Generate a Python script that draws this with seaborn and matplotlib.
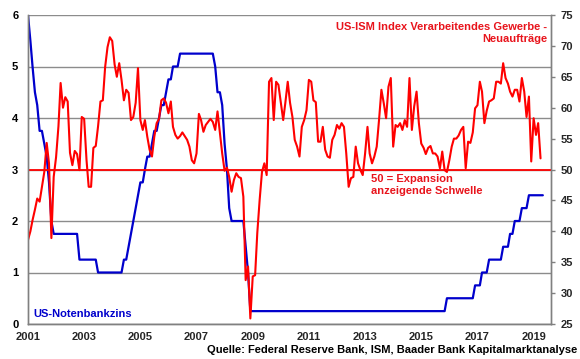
import matplotlib
matplotlib.use("Agg")
import matplotlib.pyplot as plt
import pandas as pd
import seaborn as sns

# ISM Verarbeitendes Gewerbe, Neuaufträge (monthly, Jan 2001 - Apr 2019)
ism_new_orders = [
    38.6, 40.0, 41.8, 43.5, 45.3, 44.8, 47.2, 49.6, 54.3, 51.0, 38.9, 48.8,
    52.0, 57.0, 64.0, 60.0, 61.7, 61.0, 52.7, 50.7, 53.0, 52.5, 49.9, 58.5,
    58.2, 51.5, 47.2, 47.2, 53.5, 53.8, 57.0, 61.0, 61.2, 66.6, 69.8, 71.4,
    70.8, 67.0, 65.0, 67.2, 64.5, 61.2, 62.9, 62.4, 58.0, 58.5, 60.8, 66.4,
    58.0, 56.4, 58.0, 55.3, 53.2, 52.1, 55.3, 57.5, 58.2, 61.2, 61.5, 60.8,
    59.1, 61.0, 56.9, 55.6, 55.0, 55.4, 56.0, 55.4, 54.8, 53.7, 51.5, 51.0,
    52.6, 59.0, 58.0, 56.1, 57.2, 57.7, 58.2, 57.7, 56.4, 59.4, 55.9, 52.6,
    49.8, 50.3, 48.8, 46.4, 48.3, 49.4, 48.8, 48.6, 45.6, 32.1, 34.3, 25.9,
    32.7, 32.9, 39.7, 45.1, 49.6, 51.0, 49.1, 64.2, 64.8, 58.0, 64.2, 63.7,
    60.8, 58.0, 60.8, 64.2, 60.8, 58.5, 54.8, 53.7, 52.1, 56.9, 58.0, 59.6,
    64.5, 64.2, 61.2, 60.9, 54.5, 54.5, 56.9, 53.2, 52.1, 51.9, 54.8, 55.6,
    57.2, 56.6, 57.5, 56.9, 52.6, 47.2, 48.6, 48.8, 53.7, 51.0, 49.9, 49.1,
    52.6, 56.9, 52.6, 51.0, 52.1, 53.7, 58.0, 62.9, 60.7, 58.3, 63.4, 64.8,
    53.7, 57.2, 56.9, 57.5, 56.4, 58.0, 56.9, 64.8, 56.4, 60.2, 62.6, 57.5,
    54.2, 53.5, 52.5, 53.5, 53.8, 52.6, 52.6, 52.1, 50.2, 52.9, 49.9, 49.6,
    51.5, 53.7, 55.0, 55.0, 55.5, 56.4, 56.9, 50.2, 54.5, 54.3, 56.0, 59.9,
    60.4, 64.2, 62.6, 57.5, 59.5, 61.0, 61.2, 61.5, 64.2, 64.2, 63.9, 67.2,
    64.8, 63.9, 62.6, 61.8, 62.9, 62.9, 61.0, 64.8, 62.6, 58.5, 61.8, 51.3,
    58.3, 55.6, 57.5, 51.8,
]

# US-Leitzins (Obergrenze), monthly, Jan 2001 - May 2019
fed_funds = [
    6.0, 5.5, 5.0, 4.5, 4.25, 3.75, 3.75, 3.5, 3.25, 2.75, 2.0, 1.75,
    1.75, 1.75, 1.75, 1.75, 1.75, 1.75, 1.75, 1.75, 1.75, 1.75, 1.25, 1.25,
    1.25, 1.25, 1.25, 1.25, 1.25, 1.25, 1.0, 1.0, 1.0, 1.0, 1.0, 1.0,
    1.0, 1.0, 1.0, 1.0, 1.0, 1.25, 1.25, 1.5, 1.75, 2.0, 2.25, 2.5,
    2.75, 2.75, 3.0, 3.25, 3.25, 3.5, 3.75, 3.75, 4.0, 4.25, 4.25, 4.5,
    4.75, 4.75, 5.0, 5.0, 5.0, 5.25, 5.25, 5.25, 5.25, 5.25, 5.25, 5.25,
    5.25, 5.25, 5.25, 5.25, 5.25, 5.25, 5.25, 5.25, 5.0, 4.5, 4.5, 4.25,
    3.5, 3.0, 2.25, 2.0, 2.0, 2.0, 2.0, 2.0, 2.0, 1.5, 1.0, 0.25,
    0.25, 0.25, 0.25, 0.25, 0.25, 0.25, 0.25, 0.25, 0.25, 0.25, 0.25, 0.25,
    0.25, 0.25, 0.25, 0.25, 0.25, 0.25, 0.25, 0.25, 0.25, 0.25, 0.25, 0.25,
    0.25, 0.25, 0.25, 0.25, 0.25, 0.25, 0.25, 0.25, 0.25, 0.25, 0.25, 0.25,
    0.25, 0.25, 0.25, 0.25, 0.25, 0.25, 0.25, 0.25, 0.25, 0.25, 0.25, 0.25,
    0.25, 0.25, 0.25, 0.25, 0.25, 0.25, 0.25, 0.25, 0.25, 0.25, 0.25, 0.25,
    0.25, 0.25, 0.25, 0.25, 0.25, 0.25, 0.25, 0.25, 0.25, 0.25, 0.25, 0.25,
    0.25, 0.25, 0.25, 0.25, 0.25, 0.25, 0.25, 0.25, 0.25, 0.25, 0.25, 0.5,
    0.5, 0.5, 0.5, 0.5, 0.5, 0.5, 0.5, 0.5, 0.5, 0.5, 0.5, 0.75,
    0.75, 0.75, 1.0, 1.0, 1.0, 1.25, 1.25, 1.25, 1.25, 1.25, 1.25, 1.5,
    1.5, 1.5, 1.75, 1.75, 2.0, 2.0, 2.0, 2.25, 2.25, 2.25, 2.5, 2.5,
    2.5, 2.5, 2.5, 2.5, 2.5,
]

year_ticks = [2001, 2003, 2005, 2007, 2009, 2011, 2013, 2015, 2017, 2019]
left_ticks = [0, 1, 2, 3, 4, 5, 6]
right_ticks = [25, 30, 35, 40, 45, 50, 55, 60, 65, 70, 75]
threshold = 50

ism = pd.DataFrame({
    "date": pd.date_range("2001-01-01", periods=len(ism_new_orders), freq="MS"),
    "ism": ism_new_orders,
})
fed = pd.DataFrame({
    "date": pd.date_range("2001-01-01", periods=len(fed_funds), freq="MS"),
    "fed": fed_funds,
})

sns.set_style("white")
plt.rcParams["font.family"] = ["Liberation Sans", "DejaVu Sans"]
plt.rcParams["font.weight"] = "bold"
plt.rcParams["font.size"] = 8

RED = "#ff0000"
TXT_RED = "#e8141c"
BLUE = "#0000cc"
GRID = "#8c8c8c"

fig = plt.figure(figsize=(5.8, 3.59), dpi=100)
ax = fig.add_axes([28 / 580, 1 - 324 / 359, (551 - 28) / 580, (324 - 15) / 359])
ax2 = ax.twinx()

sns.lineplot(data=fed, x="date", y="fed", ax=ax, color=BLUE, linewidth=1.6)
ax2.axhline(threshold, color=RED, linewidth=1.3)
sns.lineplot(data=ism, x="date", y="ism", ax=ax2, color=RED, linewidth=1.5)

ax.set_ylim(0, 6)
ax2.set_ylim(25, 75)
ax.set_xlim(pd.Timestamp("2001-01-01"), pd.Timestamp("2019-08-15"))
ax.set_yticks(left_ticks)
ax2.set_yticks(right_ticks)
ax.set_xticks([pd.Timestamp(f"{y}-01-01") for y in year_ticks])
ax.set_xticklabels([str(y) for y in year_ticks])
for a in (ax, ax2):
    a.set_xlabel("")
    a.set_ylabel("")

ax.yaxis.grid(True, color=GRID, linewidth=1)
ax.set_axisbelow(True)

for a in (ax, ax2):
    for side in ("top",):
        a.spines[side].set_visible(False)
    for side in ("left", "right", "bottom"):
        a.spines[side].set_color("#808080")
        a.spines[side].set_linewidth(1)

ax.tick_params(axis="y", length=0, pad=7, labelsize=8, colors="black")
ax.tick_params(axis="x", length=3, width=1, color="#808080", pad=3, labelsize=8)
ax2.tick_params(axis="y", length=3, width=1, color="#808080", pad=4, labelsize=8)
for lab in ax.get_xticklabels() + ax.get_yticklabels() + ax2.get_yticklabels():
    lab.set_fontweight("bold")

fig.text(547 / 580, 1 - 33 / 359, "US-ISM Index Verarbeitendes Gewerbe -\nNeuaufträge",
         ha="right", va="center", color=TXT_RED, fontsize=8, fontweight="bold",
         multialignment="right", linespacing=1.15)
fig.text(371 / 580, 1 - 185 / 359, "50 = Expansion\nanzeigende Schwelle",
         ha="left", va="center", color=TXT_RED, fontsize=8, fontweight="bold",
         linespacing=1.15)
fig.text(33 / 580, 1 - 314 / 359, "US-Notenbankzins", ha="left", va="center",
         color=BLUE, fontsize=8, fontweight="bold")
fig.text(577 / 580, 1 - 350 / 359,
         "Quelle: Federal Reserve Bank, ISM, Baader Bank Kapitalmarktanalyse",
         ha="right", va="center", color="black", fontsize=8, fontweight="bold")

fig.savefig("out.png", dpi=100)
